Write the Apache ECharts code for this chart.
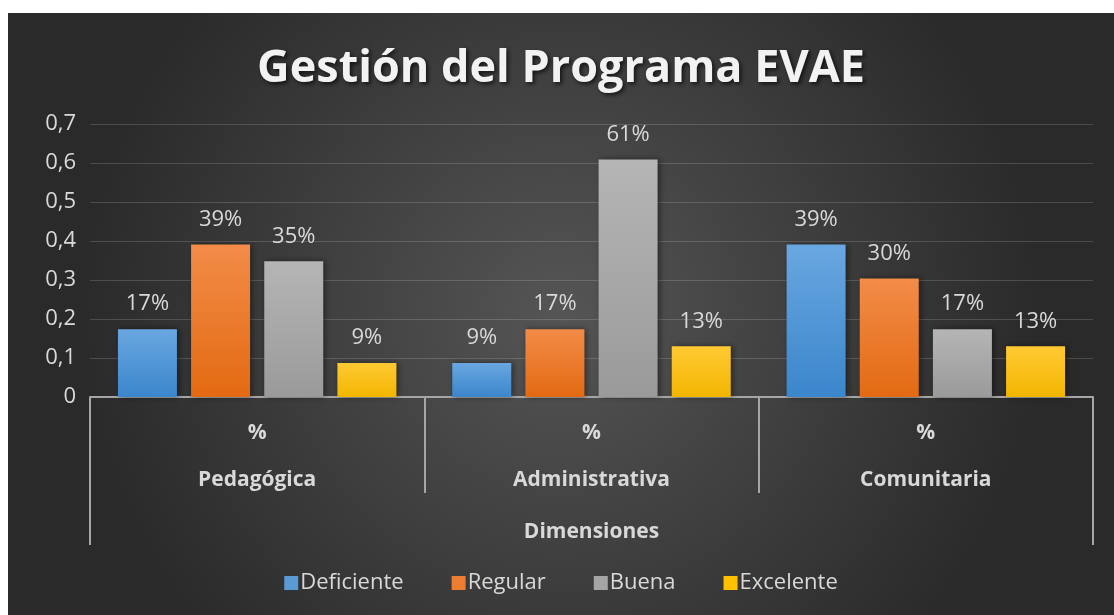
<!DOCTYPE html>
<html>
<head>
<meta charset="utf-8">
<script src="https://cdn.jsdelivr.net/npm/echarts@6/dist/echarts.min.js"></script>
<style>
  html, body { margin: 0; padding: 0; background: #ffffff; }
  #container { position: absolute; left: 8px; top: 13px; width: 1106px; height: 602px; }
</style>
</head>
<body>
<div id="container"></div>
<script>
var dom = document.getElementById("container");
var myChart = echarts.init(dom);

var dimensiones = ['Pedagógica', 'Administrativa', 'Comunitaria'];
var niveles = ['Deficiente', 'Regular', 'Buena', 'Excelente'];
var deficiente = [0.174, 0.087, 0.391];
var regular = [0.391, 0.174, 0.304];
var buena = [0.348, 0.609, 0.174];
var excelente = [0.087, 0.130, 0.130];
var yTicks = [0, 0.1, 0.2, 0.3, 0.4, 0.5, 0.6, 0.7];

var FONT = '"Open Sans", Lato, sans-serif';
var TXT = '#d9d9d9';

function grad(top, bottom) {
  return new echarts.graphic.LinearGradient(0, 0, 0, 1, [
    { offset: 0, color: top },
    { offset: 1, color: bottom }
  ]);
}

var colors = [
  grad('#69a7e0', '#3b86cc'),
  grad('#f28c48', '#e36a12'),
  grad('#b5b5b5', '#9a9a9a'),
  grad('#ffc933', '#f2b600')
];
var legendColors = ['#5b9bd5', '#ed7d31', '#a5a5a5', '#ffc000'];

var values = [deficiente, regular, buena, excelente];

var option = {
  backgroundColor: {
    type: 'radial', x: 0.5, y: 0.5, r: 0.8,
    colorStops: [
      { offset: 0, color: '#555555' },
      { offset: 1, color: '#2a2a2a' }
    ]
  },
  textStyle: { fontFamily: FONT },
  title: {
    text: 'Gestión del Programa EVAE',
    left: 'center',
    top: 29,
    textStyle: {
      color: '#f2f2f2',
      fontSize: 45,
      fontWeight: 'bold',
      fontFamily: FONT,
      textShadowColor: 'rgba(0,0,0,0.7)',
      textShadowBlur: 4,
      textShadowOffsetX: 2,
      textShadowOffsetY: 2
    }
  },
  legend: {
    data: niveles.map(function (n, i) {
      return { name: n, itemStyle: { color: legendColors[i] } };
    }),
    top: 554,
    left: 'center',
    icon: 'rect',
    itemWidth: 14,
    itemHeight: 14,
    itemGap: 48,
    textStyle: { color: TXT, fontSize: 22, fontFamily: FONT, padding: [0, 0, 0, -3] }
  },
  grid: { left: 82, right: 21, top: 111, bottom: 218 },
  xAxis: [{
    type: 'category',
    data: dimensiones,
    axisLine: { show: true, lineStyle: { color: '#a6a6a6', width: 2 } },
    axisTick: { show: true, interval: 0, length: 96, lineStyle: { color: '#a6a6a6', width: 2 } },
    axisLabel: {
      interval: 0,
      margin: 13,
      color: TXT,
      fontSize: 21,
      fontWeight: 'bold',
      lineHeight: 47,
      fontFamily: FONT,
      formatter: function (v) { return '%\n' + v; }
    }
  }, {
    type: 'category',
    data: ['Dimensiones'],
    position: 'bottom',
    axisLine: { show: false },
    axisTick: { show: true, interval: 0, length: 148, lineStyle: { color: '#a6a6a6', width: 2 } },
    axisLabel: {
      margin: 125,
      color: TXT,
      fontSize: 21,
      fontWeight: 'bold',
      fontFamily: FONT
    }
  }],
  yAxis: {
    type: 'value',
    min: 0,
    max: 0.7,
    interval: 0.1,
    axisLine: { show: false },
    axisTick: { show: false },
    splitLine: { lineStyle: { color: 'rgba(255,255,255,0.16)', width: 1 } },
    axisLabel: {
      color: TXT,
      fontSize: 22,
      margin: 14,
      fontFamily: FONT,
      formatter: function (v) {
        var t = yTicks.filter(function (k) { return Math.abs(k - v) < 1e-9; })[0];
        return String(t === undefined ? v : t).replace('.', ',');
      }
    }
  },
  series: niveles.map(function (n, i) {
    return {
      name: n,
      type: 'bar',
      xAxisIndex: 0,
      barWidth: 59,
      barGap: '24%',
      data: values[i],
      itemStyle: {
        color: colors[i],
        shadowColor: 'rgba(0,0,0,0.45)',
        shadowBlur: 6,
        shadowOffsetX: 2,
        shadowOffsetY: 0
      },
      label: {
        show: true,
        position: 'top',
        distance: 14,
        color: TXT,
        fontSize: 22,
        fontFamily: FONT,
        formatter: function (p) { return Math.round(p.value * 100) + '%'; }
      }
    };
  })
};

if (option && typeof option === 'object') {
  myChart.setOption(option);
}
</script>
</body>
</html>
